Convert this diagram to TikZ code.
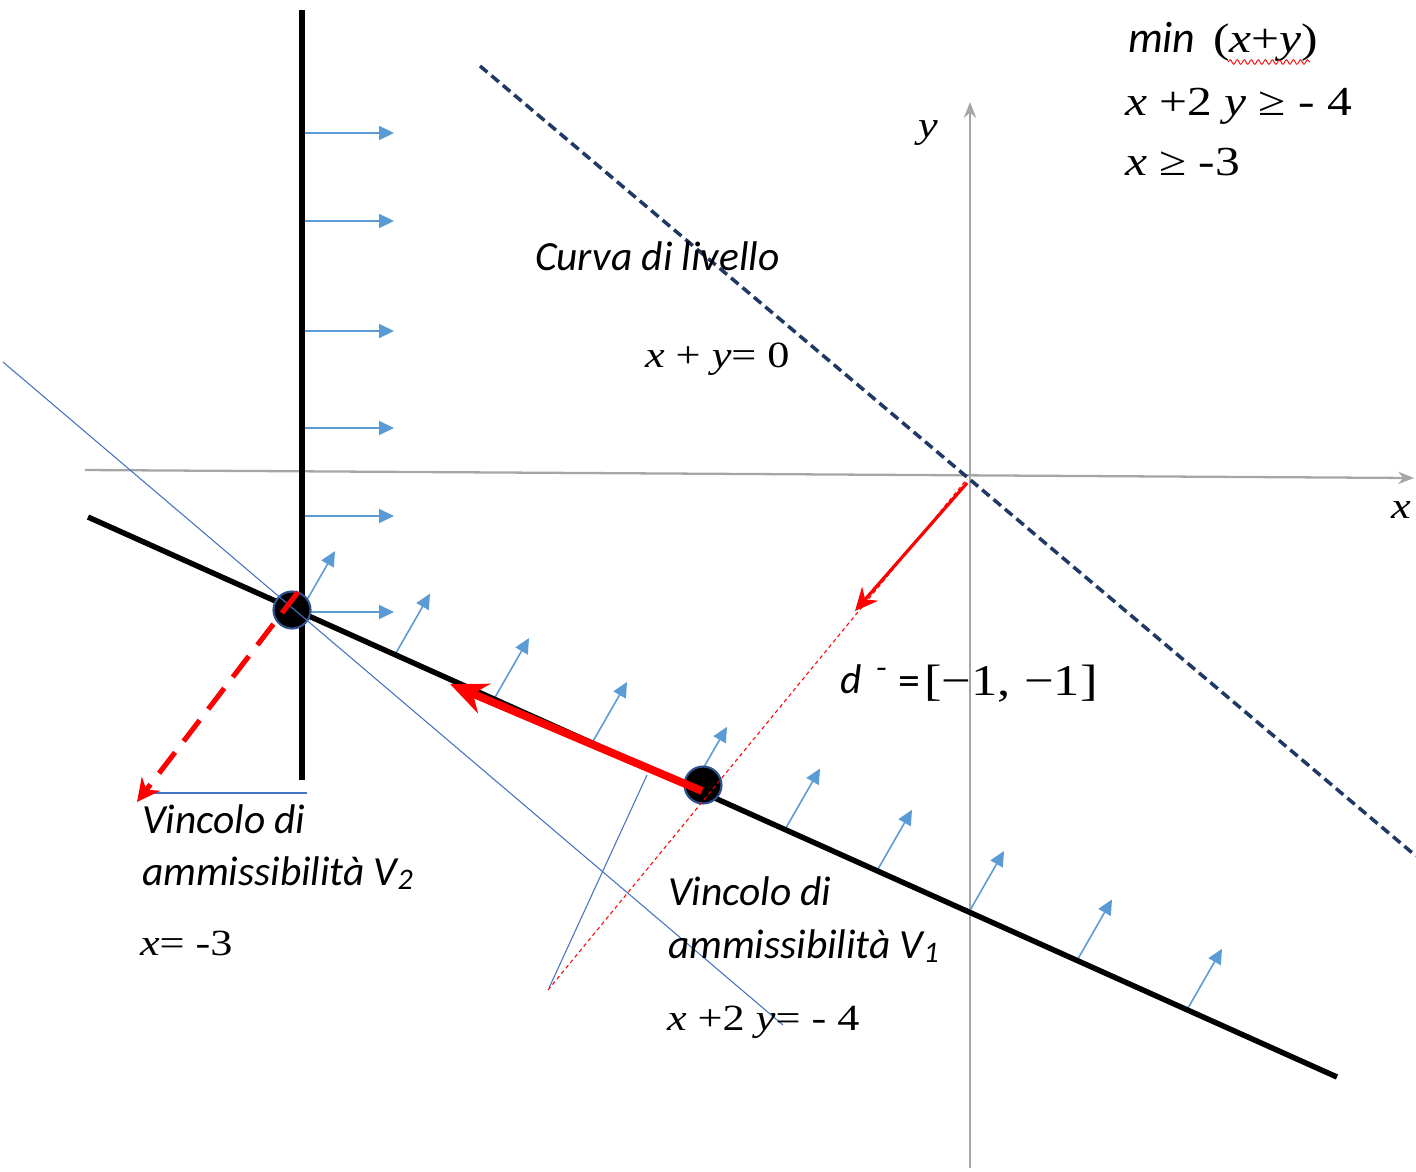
\documentclass[tikz,border=0pt]{standalone}
\usepackage{fontspec}
\setmainfont{Liberation Serif}
\newfontfamily\calfont{Carlito}
\newfontfamily\tnr[FakeStretch=1.2]{Liberation Serif}
\usetikzlibrary{arrows.meta,decorations.pathmorphing}
\definecolor{axisgray}{HTML}{A6A6A6}
\definecolor{lightblue}{HTML}{5B9BD5}
\definecolor{thinblue}{HTML}{4472C4}
\definecolor{navyline}{HTML}{1F3864}
\definecolor{dotrim}{HTML}{2F528F}
\tikzset{
  axisline/.style={draw=axisgray,line width=1.3pt,-{Stealth[length=9pt,width=7pt]}},
  levelline/.style={draw=navyline,line width=2pt,dash pattern=on 5.5pt off 3pt},
  constraint/.style={draw=black,line width=3.1pt},
  barrow/.style={draw=lightblue,line width=0.9pt,-{Triangle[length=8.5pt,width=8pt]}},
  thinline/.style={draw=thinblue,line width=0.6pt},
  dot/.style={circle,fill=black,draw=dotrim,line width=1.2pt,minimum size=0.74cm,inner sep=0pt},
  redthin/.style={draw=red,line width=0.6pt,dash pattern=on 2.2pt off 1.8pt},
  txt/.style={anchor=base west,inner sep=0pt,outer sep=0pt},
  caltxt/.style={txt,font=\calfont\itshape\fontsize{23.6}{28}\selectfont},
  sertxt/.style={txt,font=\tnr\fontsize{21}{25}\selectfont},
}
\begin{document}
\begin{tikzpicture}[x=0.02cm,y=-0.02cm]
\useasboundingbox (0,0) rectangle (1416,1171);
% axes
\coordinate (xL) at (85,470);
\coordinate (xR) at (1414,478);
\coordinate (yB) at (970,1168);
\coordinate (yT) at (970,102);
\draw[axisline] (xL) -- (xR);
\draw[axisline] (yB) -- (yT);
% level curve
\coordinate (L1) at (480,66);
\coordinate (L2) at (1416,856);
\draw[levelline] (L1) -- (L2);
% constraints
\coordinate (V2t) at (302,10);
\coordinate (V2b) at (302,780);
\coordinate (V1a) at (88,517);
\coordinate (V1b) at (1337,1077);
% horizontal blue arrows
\foreach \yy in {133,221,331,428,516,612}
  \draw[barrow] (302,\yy) -- (394,\yy);
% slanted blue arrows
\foreach \bx in {300,395,494,592,692,785,877,969,1077,1187}
  \draw[barrow] (\bx,{517+(\bx-88)*0.4484}) -- ++(35,-61);
\draw[constraint] (V2t) -- (V2b);
\draw[constraint] (V1a) -- (V1b);
% points
\node[dot] (P1) at (292,610) {};
\node[dot] (P2) at (703,785) {};
% thin blue lines
\coordinate (T1a) at (3,362);
\coordinate (T1b) at (783,1025);
\coordinate (T2a) at (549,988);
\coordinate (T2b) at (647,775);
\coordinate (T3a) at (140,793);
\coordinate (T3b) at (307,793);
\draw[thinline] (T1a) -- (T1b);
\draw[thinline] (T2a) -- (T2b);
\draw[thinline] (T3a) -- (T3b);
% red
\coordinate (R0) at (548,990);
\coordinate (R1) at (967,479);
\draw[redthin] (R0) -- (R1);
\coordinate (D0) at (967,483);
\coordinate (D1) at (855,611);
\draw[draw=red,line width=1.8pt,-{Stealth[length=13pt,width=12pt]}] (D0) -- (D1);
\coordinate (M0) at (702,791);
\coordinate (M1) at (450,684);
\draw[draw=red,line width=4.5pt,-{Stealth[length=21pt,width=18pt]}] (M0) -- (M1);
\coordinate (E0) at (298,592);
\coordinate (E1) at (137,802);
\draw[draw=red,line width=2.9pt,dash pattern=on 15pt off 8pt,-{Stealth[length=13pt,width=13pt]}] (E0) -- (E1);
% texts
\node[txt,font=\tnr\itshape\fontsize{21}{25}\selectfont] (ylab) at (918,137) {y};
\node[txt,font=\tnr\itshape\fontsize{21}{25}\selectfont] (xlab) at (1391,518) {x};
\node[txt,font=\calfont\itshape\fontsize{25}{30}\selectfont] (minl) at (1128,52) {min};
\node[txt,font=\tnr\fontsize{23.5}{28}\selectfont] (minr) at (1213,52) {(\textit{x}+\textit{y})};
\draw[red,line width=0.5pt,decorate,decoration={snake,amplitude=1.3pt,segment length=4pt}] (1228,62) -- (1310,62);
\node[txt,font=\tnr\fontsize{23.5}{28}\selectfont] (c1) at (1125,115) {\textit{x} +2 \textit{y} ≥ - 4};
\node[txt,font=\tnr\fontsize{23.5}{28}\selectfont] (c2) at (1125,175) {\textit{x} ≥ -3};
\node[caltxt] (curva) at (535,270) {Curva di livello};
\node[sertxt] (lev) at (645,367) {\textit{x} + \textit{y}= 0};
\node[txt,font=\calfont\itshape\fontsize{23.6}{28}\selectfont] (dd) at (840,693) {d};
\node[txt,font=\calfont\bfseries\fontsize{16}{20}\selectfont] (dm) at (876,686) {¯};
\node[txt,font=\calfont\fontsize{25}{28}\selectfont] (deq) at (898,695) {=};
\node[txt,font=\tnr\fontsize{25}{30}\selectfont] (dv) at (924,695) {[−1, −1]};
\node[caltxt] (v2a) at (142,833) {Vincolo di};
\node[caltxt] (v2b) at (142,885) {ammissibilità V\raisebox{-0.25ex}{\fontsize{17}{20}\selectfont 2}};
\node[sertxt] (v2c) at (140,955) {\textit{x}= -3};
\node[caltxt] (v1a) at (668,905) {Vincolo di};
\node[caltxt] (v1b) at (668,958) {ammissibilità V\raisebox{-0.25ex}{\fontsize{17}{20}\selectfont 1}};
\node[sertxt] (v1c) at (667,1030) {\textit{x} +2 \textit{y}= - 4};
\end{tikzpicture}
\end{document}
